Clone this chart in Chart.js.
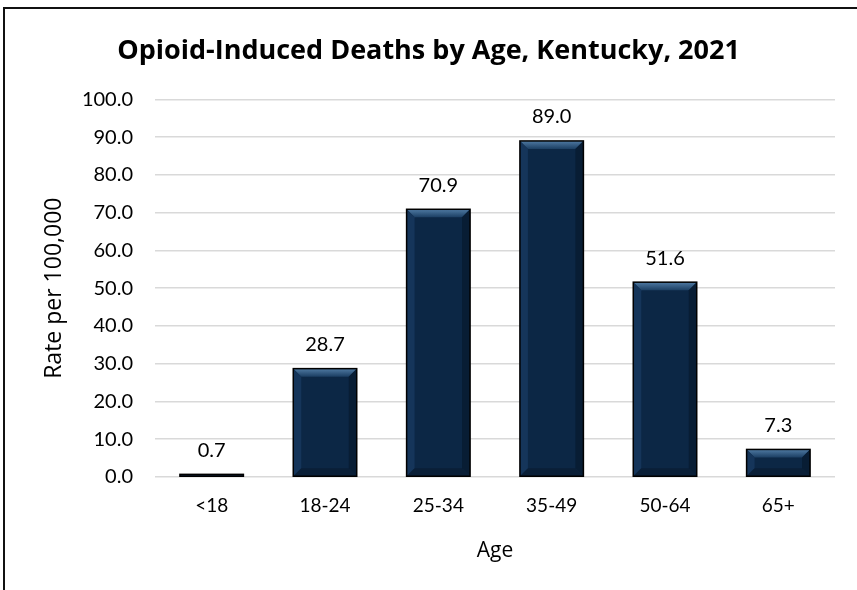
<!DOCTYPE html>
<html>
<head>
<meta charset="utf-8">
<script src="https://cdn.jsdelivr.net/npm/chart.js@4.4.1/dist/chart.umd.min.js"></script>
<style>
  html, body { margin: 0; padding: 0; background: #fff; }
  #wrap { position: relative; width: 857px; height: 590px; overflow: hidden; }
  #frame { position: absolute; left: 3px; top: 7px; width: 900px; height: 700px;
           border-left: 2px solid #111; border-top: 2px solid #111; box-sizing: border-box; pointer-events: none; }
  canvas { position: absolute; left: 0; top: 0; }
</style>
</head>
<body>
<div id="wrap">
  <canvas id="c" width="857" height="590"></canvas>
  <div id="frame"></div>
</div>
<script>
const titleText = "Opioid-Induced Deaths by Age, Kentucky, 2021";
const categories = ["<18", "18-24", "25-34", "35-49", "50-64", "65+"];
const rates = [0.7, 28.7, 70.9, 89.0, 51.6, 7.3];
const yTitle = "Rate per 100,000";
const xTitle = "Age";
const FONT = "Lato, 'Open Sans', sans-serif";
const TFONT = "'Open Sans', Lato, sans-serif";

const bevelPlugin = {
  id: 'bevel',
  afterDatasetsDraw(chart) {
    const ctx = chart.ctx;
    const meta = chart.getDatasetMeta(0);
    meta.data.forEach((bar, i) => {
      const p = bar.getProps(['x', 'y', 'base', 'width'], true);
      const l = p.x - p.width / 2, r = p.x + p.width / 2;
      const t = Math.min(p.y, p.base), b = Math.max(p.y, p.base);
      const h = b - t;
      const bv = Math.min(8, h / 2.2);
      ctx.save();
      ctx.fillStyle = '#0c2745';
      ctx.fillRect(l, t, r - l, h);
      let g = ctx.createLinearGradient(0, t, 0, t + bv);
      g.addColorStop(0, '#4f7aa3');
      g.addColorStop(1, '#1c3f63');
      ctx.fillStyle = g;
      ctx.beginPath(); ctx.moveTo(l, t); ctx.lineTo(r, t); ctx.lineTo(r - bv, t + bv); ctx.lineTo(l + bv, t + bv); ctx.closePath(); ctx.fill();
      ctx.fillStyle = '#15355a';
      ctx.beginPath(); ctx.moveTo(l, t); ctx.lineTo(l + bv, t + bv); ctx.lineTo(l + bv, b - bv); ctx.lineTo(l, b); ctx.closePath(); ctx.fill();
      ctx.fillStyle = '#081d34';
      ctx.beginPath(); ctx.moveTo(r, t); ctx.lineTo(r - bv, t + bv); ctx.lineTo(r - bv, b - bv); ctx.lineTo(r, b); ctx.closePath(); ctx.fill();
      ctx.fillStyle = '#0a1f37';
      ctx.beginPath(); ctx.moveTo(l, b); ctx.lineTo(l + bv, b - bv); ctx.lineTo(r - bv, b - bv); ctx.lineTo(r, b); ctx.closePath(); ctx.fill();
      ctx.strokeStyle = '#000';
      ctx.lineWidth = 1.5;
      ctx.strokeRect(l, t, r - l, h);
      ctx.fillStyle = '#000';
      ctx.font = '20px ' + FONT;
      ctx.textAlign = 'center';
      ctx.textBaseline = 'middle';
      ctx.fillText(rates[i].toFixed(1), p.x, t - 24);
      ctx.restore();
    });
  }
};

new Chart(document.getElementById('c'), {
  type: 'bar',
  data: {
    labels: categories,
    datasets: [{
      data: rates,
      backgroundColor: '#0c2745',
      borderWidth: 0,
      barPercentage: 0.56,
      categoryPercentage: 1.0
    }]
  },
  options: {
    responsive: false,
    animation: false,
    devicePixelRatio: 1,
    layout: { padding: { left: 22, right: 22, top: 0, bottom: 0 } },
    plugins: {
      legend: { display: false },
      tooltip: { enabled: false },
      title: {
        display: true,
        text: titleText,
        color: '#000',
        font: { family: TFONT, size: 27, weight: 'bold', lineHeight: 1.2 },
        padding: { top: 35, bottom: 32 }
      }
    },
    scales: {
      x: {
        grid: { display: false, drawTicks: false },
        border: { display: false },
        ticks: { color: '#000', font: { family: FONT, size: 19 }, padding: 17 },
        title: { display: true, text: xTitle, color: '#000', font: { family: TFONT, size: 21 }, padding: { top: 0, bottom: 26 } },
        afterFit(scale) { scale.height = 113; }
      },
      y: {
        min: 0, max: 100,
        ticks: { stepSize: 10, color: '#000', font: { family: FONT, size: 20 }, padding: 22,
                 callback: v => Number(v).toFixed(1) },
        grid: { color: '#d9d9d9', lineWidth: 1.5, drawTicks: false },
        border: { display: false },
        title: { display: true, text: yTitle, color: '#000', font: { family: TFONT, size: 23 }, padding: { top: 19, bottom: 0 } },
        afterFit(scale) { scale.width = 133; }
      }
    }
  },
  plugins: [bevelPlugin]
});
</script>
</body>
</html>
